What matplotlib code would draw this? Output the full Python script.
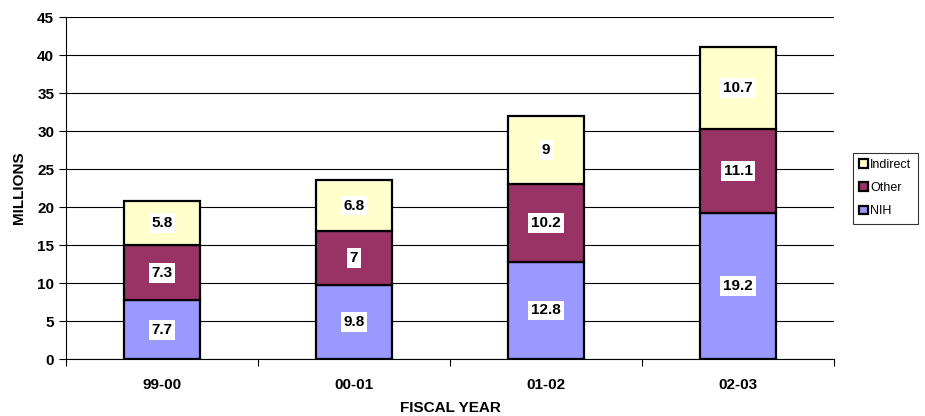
import matplotlib
matplotlib.use("Agg")
import matplotlib.pyplot as plt
import numpy as np

plt.rcParams['font.family'] = ['Liberation Sans', 'DejaVu Sans']

years = ["99-00", "00-01", "01-02", "02-03"]
nih = [7.7, 9.8, 12.8, 19.2]
other = [7.3, 7, 10.2, 11.1]
indirect = [5.8, 6.8, 9, 10.7]

fig = plt.figure(figsize=(9.25, 4.16), dpi=100)
ax = fig.add_axes([0.0714, 0.137, 0.8302, 0.822])

x = np.arange(len(years))
w = 0.4
bottom = np.zeros(len(years))
series = [("NIH", nih, "#9999FF"), ("Other", other, "#993366"), ("Indirect", indirect, "#FFFFCC")]
handles = []
for name, vals, col in series:
    vals = np.array(vals, dtype=float)
    b = ax.bar(x, vals, w, bottom=bottom, color=col, edgecolor="black", linewidth=1.6, label=name, zorder=3)
    handles.append(b)
    for xi, v, b0 in zip(x, vals, bottom):
        ax.text(xi, b0 + v / 2, "%g" % v, ha="center", va="center", fontsize=11, fontweight="bold",
                zorder=4, bbox=dict(facecolor="white", edgecolor="none", pad=2))
    bottom += vals

ax.set_xlim(-0.5, 3.5)
ax.set_ylim(0, 45)
ax.set_yticks(np.arange(0, 46, 5))
ax.yaxis.grid(True, color="black", linewidth=0.8, zorder=0)
ax.set_axisbelow(True)
for s in ["top", "right"]:
    ax.spines[s].set_visible(False)
ax.spines["left"].set_linewidth(0.8)
ax.spines["bottom"].set_linewidth(0.8)

ax.set_xticks(x)
ax.set_xticklabels(years, fontsize=11, fontweight="bold")
ax.tick_params(axis="x", which="major", length=0, pad=14)
ax.set_xticks(np.arange(-0.5, 4, 1), minor=True)
ax.tick_params(axis="x", which="minor", length=5, direction="out", width=0.8)
ax.tick_params(axis="y", labelsize=11, length=5, width=0.8)
for lab in ax.get_yticklabels():
    lab.set_fontweight("bold")

ax.set_xlabel("FISCAL YEAR", fontsize=11, fontweight="bold", labelpad=6)
ax.set_ylabel("MILLIONS", fontsize=11, fontweight="bold", labelpad=8)

leg = ax.legend(handles[::-1], ["Indirect", "Other", "NIH"], loc="center left",
                bbox_to_anchor=(1.025, 0.5), fontsize=9, frameon=True, fancybox=False,
                edgecolor="black", handlelength=0.7, handleheight=0.7, handletextpad=0.15,
                labelspacing=0.9, borderpad=0.5, borderaxespad=0)
leg.get_frame().set_linewidth(0.8)

fig.savefig("out.png", dpi=100)
